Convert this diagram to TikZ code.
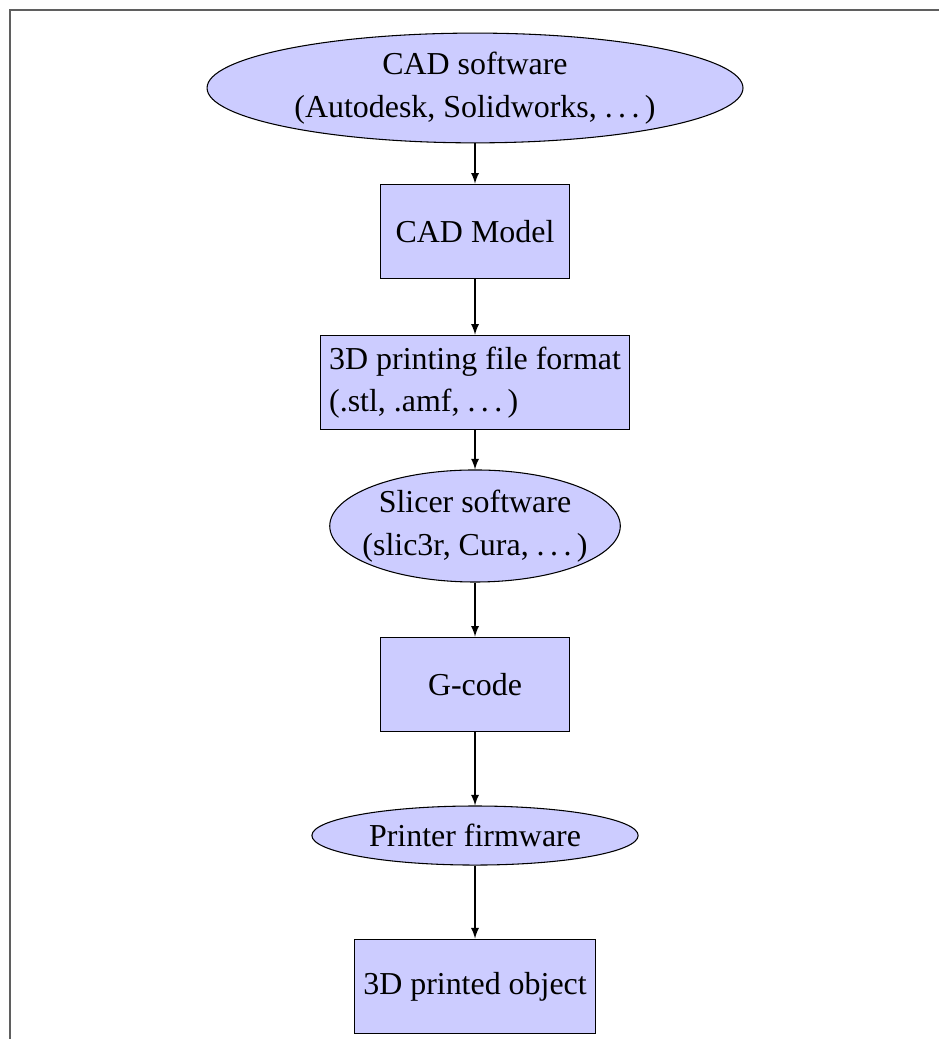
\documentclass[tikz,border=0pt]{standalone}
\usepackage{fontspec}
\setmainfont{Liberation Serif}
\usepackage{amsmath}
\usepackage{amssymb}
\usetikzlibrary{shapes.geometric,arrows}

\definecolor{framegray}{RGB}{95,95,95}
\newcommand{\etcdots}{.\kern.17em.\kern.17em.\kern.17em}

\tikzset{
  soft/.style={ellipse,draw=black,fill=blue!20,inner sep=0pt,align=center},
  file/.style={rectangle,draw=black,fill=blue!20,minimum width=2.5cm,minimum height=1.25cm},
}

\begin{document}
\begin{tikzpicture}[auto,>=latex,every node/.append style={font=\fontsize{12}{16}\selectfont}]
   \useasboundingbox (0,0) rectangle (12.40,-13.725);
   \draw[framegray,line width=0.6pt] (0.132,-13.725) -- (0.132,-0.132) -- (12.40,-0.132);
   \begin{scope}
    \node[soft,minimum width=7.08cm,minimum height=1.45cm] (cad) at (6.275,-1.162) {CAD software\\(Autodesk, Solidworks, \etcdots)};
    \node[file] (model) at (6.275,-3.058) {CAD Model};
    \node[file,align=left] (format) at (6.275,-5.053) {3D printing file format\\(.stl, .amf, \etcdots)};
    \node[soft,inner xsep=-1.3mm,minimum width=3.83cm,minimum height=1.48cm] (slicer) at (6.275,-6.948) {Slicer software\\(slic3r, Cura, \etcdots)};
    \node[file] (gcode) at (6.275,-9.042) {G-code};
    \node[soft,minimum width=4.31cm,minimum height=0.78cm] (firmware) at (6.275,-11.037) {Printer firmware};
    \node[file] (object) at (6.275,-13.03) {3D printed object};
   \end{scope}
   \begin{scope}[every edge/.style={draw=black,->}]
    \draw  (cad) edge (model);
    \draw  (model) edge (format);
    \draw  (format) edge (slicer);
    \draw  (slicer) edge (gcode);
    \draw  (gcode) edge (firmware);
    \draw  (firmware) edge (object);
   \end{scope}
\end{tikzpicture}
\end{document}
